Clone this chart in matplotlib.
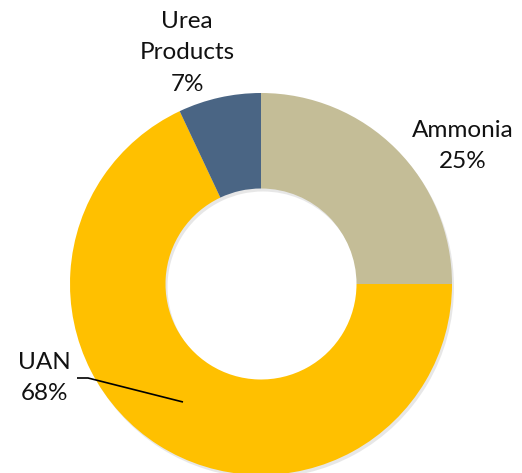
import matplotlib
matplotlib.use("Agg")
import matplotlib.pyplot as plt

categories = ["Ammonia", "UAN", "Urea\nProducts"]
shares = [25, 68, 7]
colors = ["#C4BD97", "#FFC000", "#4A6584"]

plt.rcParams['font.family'] = ['Lato', 'DejaVu Sans']

W, H = 522, 473
fig = plt.figure(figsize=(W / 100, H / 100), dpi=100)
ax = fig.add_axes([0, 0, 1, 1])

cx, cy, r = 261, H - 284, 191

# subtle shadow
ax.pie(shares, colors=["#d0d0d0"] * 3, startangle=90, counterclock=False,
       center=(cx + 2, cy - 3), radius=r,
       wedgeprops=dict(width=r * 0.5, linewidth=0, alpha=0.5), frame=True)
wedges, _ = ax.pie(shares, colors=colors, startangle=90, counterclock=False,
                   center=(cx, cy), radius=r,
                   wedgeprops=dict(width=r * 0.5, linewidth=0), frame=True)
ax.set_xlim(0, W)
ax.set_ylim(0, H)
ax.set_aspect('equal')
ax.axis('off')

fs = 17.5
ls = 1.6
ax.text(187, H - 53, f"{categories[2]}\n{shares[2]}%", ha='center', va='center',
        fontsize=fs, linespacing=ls, color='#111111')
ax.text(463, H - 146, f"{categories[0]}\n{shares[0]}%", ha='center', va='center',
        fontsize=fs, linespacing=ls, color='#111111')
ax.text(44, H - 378, f"{categories[1]}\n{shares[1]}%", ha='center', va='center',
        fontsize=fs, linespacing=ls, color='#111111')
ax.plot([77, 88, 183], [H - 378, H - 378, H - 402], color='black', lw=1.2,
        solid_capstyle='butt')

fig.savefig("out.png", dpi=100)
